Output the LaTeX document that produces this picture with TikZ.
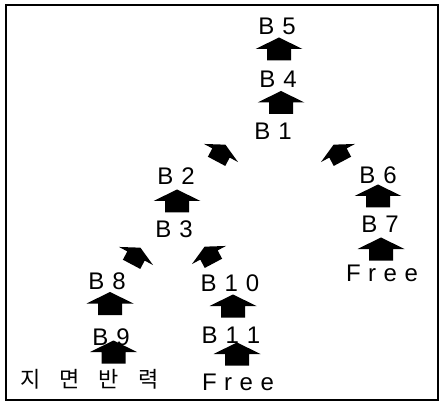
\documentclass[tikz,border=0pt]{standalone}
\usepackage{fontspec}
\setmainfont{Liberation Sans}
\newfontfamily\krfont{Noto Sans CJK KR}
\begin{document}
\begin{tikzpicture}[x=1pt,y=1pt,
  lbl/.style={font=\fontsize{24}{26}\selectfont, inner sep=0pt, anchor=base},
  blk/.pic={\fill (-23.5,0) -- (0,11.5) -- (23.5,0) -- (12,0) -- (12,-11.5) -- (-12,-11.5) -- (-12,0) -- cycle;}]
\useasboundingbox (0,0) rectangle (440,-404);
\draw[line width=1.5pt] (6,-5) rectangle (438,-400);
% labels
\node[lbl] (B5) at (277,-35) {B\kern8pt 5};
\node[lbl] (B4) at (278,-88) {B\kern8pt 4};
\node[lbl] (B1) at (273,-140) {B\kern8pt 1};
\node[lbl] (B2) at (176,-185) {B\kern8pt 2};
\node[lbl] (B3) at (174,-237) {B\kern8pt 3};
\node[lbl] (B6) at (378,-183) {B\kern8pt 6};
\node[lbl] (B7) at (380,-233) {B\kern8pt 7};
\node[lbl] (F1) at (382,-281) {F\kern7.5pt r\kern7.5pt e\kern7.5pt e};
\node[lbl] (B8) at (107,-290) {B\kern8pt 8};
\node[lbl] (B9) at (111,-345) {B\kern8pt 9};
\node[lbl] (B10) at (230,-291) {B\kern8pt 1\kern8pt 0};
\node[lbl] (B11) at (231,-343) {B\kern8pt 1\kern8pt 1};
\node[lbl] (F2) at (238,-390) {F\kern7.5pt r\kern7.5pt e\kern7.5pt e};
\node[font=\krfont\fontsize{22}{24}\selectfont, inner sep=0pt, anchor=base] (GR) at (89.5,-387) {지\hspace{19pt}면\hspace{19pt}반\hspace{19pt}력};
% block arrows
\pic at (279,-49) {blk};
\pic at (281,-102.5) {blk};
\pic at (177,-201) {blk};
\pic at (378,-196) {blk};
\pic at (381,-249) {blk};
\pic at (110,-303.5) {blk};
\pic at (113.5,-352) {blk};
\pic at (233,-306) {blk};
\pic at (237,-354) {blk};
% diagonal block arrows
\pic[rotate=-28, scale=0.82] at (221,-153) {blk};
\pic[rotate=28, scale=0.82] at (338,-153) {blk};
\pic[rotate=-28, scale=0.82] at (136,-256) {blk};
\pic[rotate=28, scale=0.82] at (209,-255) {blk};
\end{tikzpicture}
\end{document}
